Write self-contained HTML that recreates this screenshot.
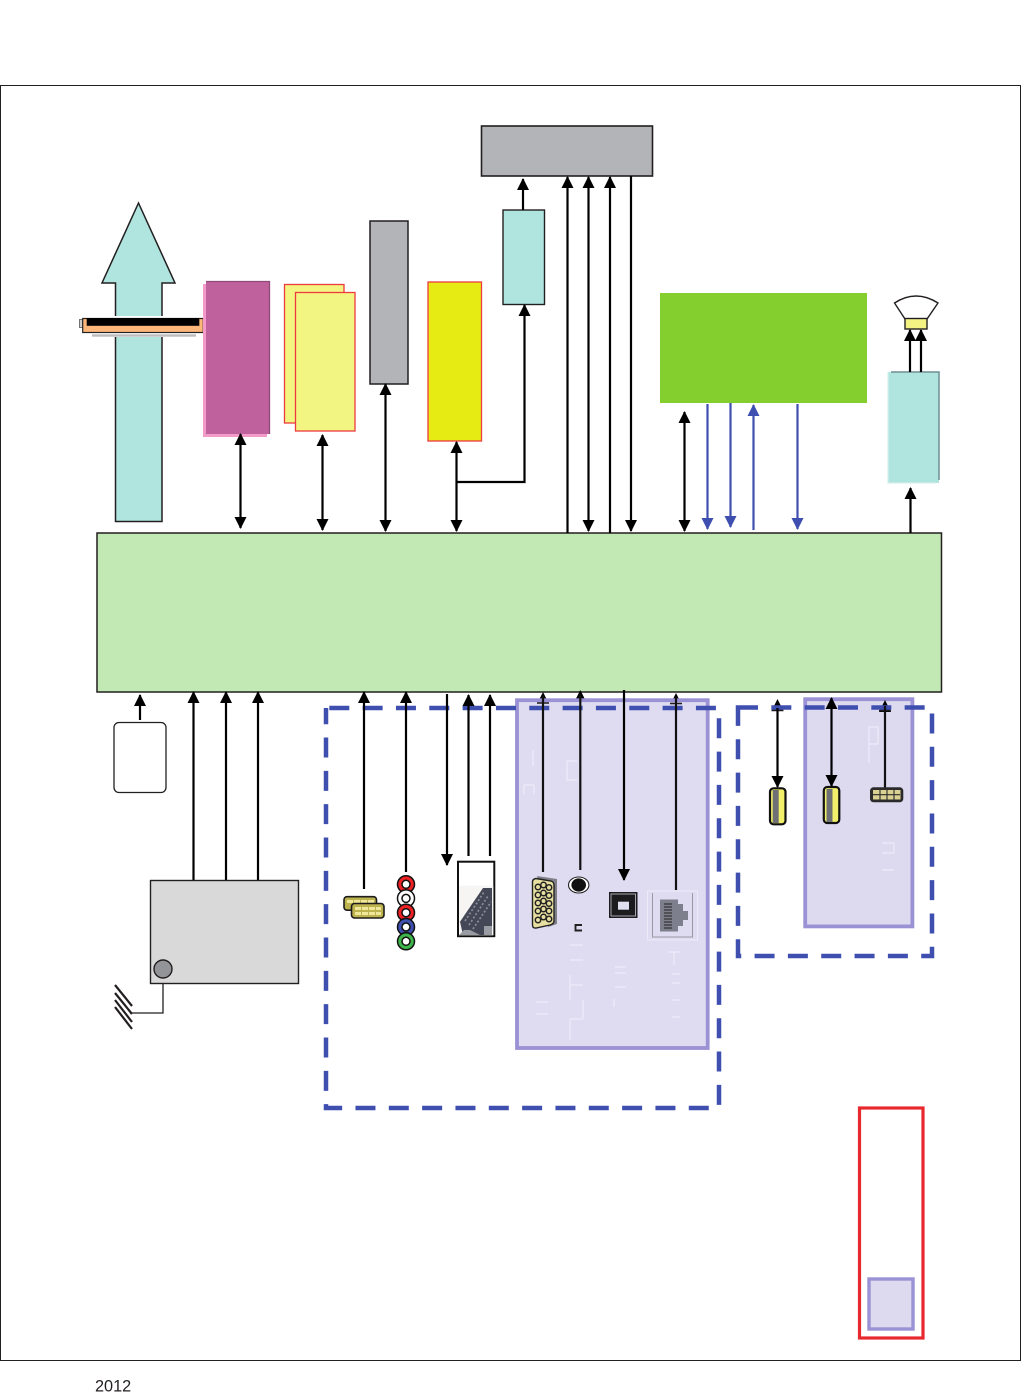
<!DOCTYPE html>
<html><head><meta charset="utf-8"><style>
html,body{margin:0;padding:0;background:#fff}
svg{display:block}
text{font-family:"Liberation Sans",sans-serif}
</style></head><body>
<svg width="1021" height="1392" viewBox="0 0 1021 1392" xmlns="http://www.w3.org/2000/svg">
<defs>
<marker id="k" markerWidth="12" markerHeight="12" refX="11" refY="6" orient="auto-start-reverse" markerUnits="userSpaceOnUse"><path d="M0,0L12,6L0,12z" fill="#000"/></marker>
<marker id="b" markerWidth="12" markerHeight="12" refX="11" refY="6" orient="auto-start-reverse" markerUnits="userSpaceOnUse"><path d="M0,0L12,6L0,12z" fill="#3f4fb0"/></marker>
</defs>
<rect x="0.5" y="85.5" width="1020" height="1275" fill="#fff" stroke="#231f20" stroke-width="1"/>

<!-- top gray -->
<rect x="481.5" y="126" width="171" height="50" fill="#b3b4b7" stroke="#231f20" stroke-width="1.600"/>

<!-- big arrow -->
<path d="M115.500,521.500V283H102L138.500,203L175,283H162V521.500Z" fill="#b0e4df" stroke="#231f20" stroke-width="1.500"/>
<rect x="78" y="316" width="130" height="21" fill="#fff"/>
<rect x="79.500" y="319.500" width="4" height="8" fill="#ccc" stroke="#555" stroke-width=".8"/>
<rect x="203" y="319.500" width="4" height="8" fill="#ccc" stroke="#555" stroke-width=".8"/>
<rect x="92" y="334.300" width="104" height="2.400" fill="#bdbdbd"/>
<rect x="82.700" y="318.500" width="120.600" height="14" fill="#fdb77a" stroke="#222" stroke-width="1.200"/>
<rect x="86.700" y="318" width="112.600" height="7.800" fill="#000"/>

<!-- purple -->
<rect x="203" y="284" width="64" height="153" fill="#f49ac9"/>
<rect x="206" y="281" width="64" height="153" fill="#bf619c"/>
<path d="M206,281.500H269.500V434" fill="none" stroke="#8e4a78" stroke-width="1.300"/>

<!-- yellow pair -->
<rect x="284.500" y="284.500" width="59.500" height="138.500" fill="#f2f581" stroke="#ee3a3f" stroke-width="1.300"/>
<rect x="295.500" y="292.500" width="59.500" height="138.500" fill="#f2f581" stroke="#ee3a3f" stroke-width="1.300"/>

<!-- gray tall -->
<rect x="370" y="221" width="38" height="163" fill="#b3b4b7" stroke="#231f20" stroke-width="1.500"/>
<!-- yellow solid -->
<rect x="428" y="282" width="53.500" height="159" fill="#e6eb14" stroke="#ee3a3f" stroke-width="1.300"/>
<!-- teal top -->
<rect x="503" y="210" width="41.500" height="94.500" fill="#b0e4df" stroke="#231f20" stroke-width="1.400"/>
<!-- green -->
<rect x="660" y="293" width="207" height="110" fill="#84ce2e"/>
<!-- teal right -->
<rect x="888" y="372" width="51" height="111" fill="#b0e4df"/>
<path d="M891,372H939V480" fill="none" stroke="#6d8e92" stroke-width="1.500"/>
<path d="M888,372V483H936" fill="none" stroke="#d5efec" stroke-width="1.200"/>
<!-- speaker -->
<path d="M905,319L894.500,303Q916,289 938,303L927,319Z" fill="#fff" stroke="#231f20" stroke-width="1.400"/>
<rect x="905" y="318.500" width="22" height="10.500" fill="#f3f384" stroke="#231f20" stroke-width="1.400"/>

<!-- main -->
<rect x="97" y="533" width="844.500" height="159" fill="#c2e8b3" stroke="#231f20" stroke-width="1.500"/>

<!-- arrowheads hidden behind lavender boxes -->
<g fill="#000">
<path d="M543,692L537,704H549Z"/>
<path d="M580.300,690L574.300,702H586.300Z"/>
<path d="M676,693L670,705H682Z"/>
</g>

<!-- lavender boxes -->
<rect x="517" y="700.200" width="190.700" height="347.800" fill="#dddaf0" fill-opacity=".94" stroke="#9a92d4" stroke-width="3.800"/>
<rect x="805.200" y="699.200" width="107.200" height="227.200" fill="#dddaf0" stroke="#9a92d4" stroke-width="3.800"/>
<g stroke="#f0eefa" stroke-width="1" fill="none">
<path d="M533,750V766M524,785H534M524,785V794M534,785V794"/>
<path d="M567,761H577M567,761V780H577"/>
<path d="M570,945H583M570,960H583M570,975V1000M570,985H583M570,1019H583M570,1019V1040M583,1000V1019"/>
<path d="M615,967H626M615,973H626M615,987H626M614,999V1007"/>
<path d="M536,1002H548M536,1014H548"/>
<path d="M668,952H680M674,952V965M672,974H680M672,983H680M672,1000H680M672,1017H680"/>
<path d="M869,727H878V744H869V727M869,744V763"/>
<path d="M882,843H894V853H882M882,870H894"/>
</g>
<g stroke="#231f20" stroke-width="1.500"><path d="M537,703H549M670,703.500H682"/></g>
<g fill="#000"><path d="M777.500,699L771.500,711H783.500Z"/><path d="M885,700L879,712H891Z"/></g>
<g stroke="#231f20" stroke-width="1.500"><path d="M771.500,710.500H783.500M879,710.500H891"/></g>

<!-- dashed -->
<g fill="none" stroke="#3f4fb0" stroke-width="4.500">
<rect x="326" y="708" width="393" height="400" stroke-dasharray="20 13.330" stroke-dashoffset="-3.300"/>
<rect x="738" y="707.500" width="194" height="248.500" stroke-dasharray="20 13.330"/>
</g>

<!-- red legend -->
<rect x="859.500" y="1108" width="63.500" height="230" fill="#fff" stroke="#e8282f" stroke-width="3.200"/>
<rect x="869" y="1279" width="44" height="50" fill="#dddaf0" stroke="#9a92d4" stroke-width="3.400"/>

<!-- black connectors -->
<g fill="none" stroke="#000" stroke-width="2.200" marker-end="url(#k)">
<path d="M240.500,434V528" marker-start="url(#k)"/>
<path d="M322.500,435V530" marker-start="url(#k)"/>
<path d="M385.500,384V531" marker-start="url(#k)"/>
<path d="M456.500,442V531" marker-start="url(#k)"/>
<path d="M457,482H524.500V305"/>
<path d="M523,210V179"/>
<path d="M567.500,533V177"/>
<path d="M588.500,531V177" marker-start="url(#k)"/>
<path d="M610,533V177"/>
<path d="M631,176V531"/>
<path d="M684.500,412V531" marker-start="url(#k)"/>
<path d="M910.500,533V488"/>
<path d="M910,372V330"/>
<path d="M921,372V330"/>
<path d="M140,720V695"/>
<path d="M193.500,880V692"/>
<path d="M226,880V692"/>
<path d="M258,880V692"/>
<path d="M364,889V692"/>
<path d="M406,872V692"/>
<path d="M447,694V865"/>
<path d="M468.500,856V695"/>
<path d="M490,856V695"/>
<path d="M624,690V880"/>
<path d="M777.500,708V787"/>
<path d="M831.500,698V786" marker-start="url(#k)"/>
</g>
<g fill="none" stroke="#111" stroke-width="2.200">
<path d="M543,872V696"/>
<path d="M580.300,870V695"/>
<path d="M676,890V697"/>
<path d="M885,788V706"/>
</g>
<!-- blue connectors -->
<g fill="none" stroke="#3f4fb0" stroke-width="2.200" marker-end="url(#b)">
<path d="M707.500,404V529"/>
<path d="M730.500,403V527"/>
<path d="M753.500,530V405"/>
<path d="M797.500,404V529"/>
</g>

<!-- SD / small -->
<rect x="114" y="722.500" width="52" height="70" rx="5" fill="#fff" stroke="#231f20" stroke-width="1.300"/>

<!-- tuner -->
<rect x="150.500" y="880.500" width="148" height="103" fill="#d9d9d9" stroke="#231f20" stroke-width="1.400"/>
<circle cx="163" cy="969" r="9" fill="#929497" stroke="#231f20" stroke-width="1.400"/>
<path d="M163,984V1013H130" fill="none" stroke="#231f20" stroke-width="1.300"/>
<g stroke="#231f20" stroke-width="2.200"><path d="M115,985L132,1006M115,993L132,1014M115,1000L132,1022M115,1007L132,1029"/></g>

<!-- HDMI pair -->
<rect x="344" y="896.700" width="32.500" height="13.500" rx="3" fill="#bcb24e" stroke="#1c1c1c" stroke-width="1.600"/>
<g fill="#efe79a"><rect x="347" y="900" width="6" height="3"/><rect x="354" y="900" width="6" height="3"/><rect x="361" y="900" width="6" height="3"/><rect x="368" y="900" width="6" height="3"/></g>
<rect x="351.500" y="903.500" width="32.500" height="14.500" rx="3" fill="#bcb24e" stroke="#1c1c1c" stroke-width="1.600"/>
<g fill="#efe79a"><rect x="355" y="907" width="6" height="3"/><rect x="362" y="907" width="6" height="3"/><rect x="369" y="907" width="6" height="3"/><rect x="376" y="907" width="5" height="3"/><rect x="355" y="912" width="6" height="3"/><rect x="362" y="912" width="6" height="3"/><rect x="369" y="912" width="6" height="3"/><rect x="376" y="912" width="5" height="3"/></g>

<!-- RCA -->
<g stroke="#111" stroke-width="1.500">
<circle cx="406" cy="884.300" r="8.500" fill="#ed2024"/><circle cx="406" cy="884.300" r="4" fill="#fff"/>
<circle cx="406" cy="898.400" r="8.500" fill="#fff"/><circle cx="406" cy="898.400" r="4" fill="#fff"/>
<circle cx="406" cy="912.700" r="8.500" fill="#ed2024"/><circle cx="406" cy="912.700" r="4" fill="#fff"/>
<circle cx="406" cy="927" r="8.500" fill="#3f4fb0"/><circle cx="406" cy="927" r="4" fill="#fff"/>
<circle cx="406" cy="941.300" r="8.500" fill="#3db54a"/><circle cx="406" cy="941.300" r="4" fill="#fff"/>
</g>

<!-- SCART -->
<rect x="458" y="861.700" width="36.300" height="74.500" fill="#fff" stroke="#111" stroke-width="2"/>
<rect x="459" y="885.700" width="34.300" height="49.500" fill="#f6f5f3"/>
<path d="M460,921.700L483,888H492V935H463Z" fill="#444755"/>
<path d="M465,921L484,892M469,925L488,896M473,929L491,902" stroke="#8a8d98" stroke-width="1.700" stroke-dasharray="2 2" fill="none"/>
<path d="M459,935L464,930H470L480,935ZM484,935V926H492V935Z" fill="#9a9ca4"/>

<!-- VGA -->
<path d="M537,876L557,879V924L548,927Z" fill="#7f8088"/>
<path d="M532.500,882Q532.500,879 536,878.500L551,881Q554,882 554,885V921Q554,924 550,925L536,928Q532.500,928.500 532.500,925Z" fill="#e8e0a0" stroke="#222" stroke-width="1.400"/>
<g fill="#e8e0a0" stroke="#222" stroke-width="1.500">
<circle cx="538" cy="887" r="2.700"/><circle cx="543.500" cy="885" r="2.700"/><circle cx="549" cy="887.500" r="2.700"/>
<circle cx="538" cy="895" r="2.700"/><circle cx="543.500" cy="893" r="2.700"/><circle cx="549" cy="895.500" r="2.700"/>
<circle cx="538" cy="903" r="2.700"/><circle cx="543.500" cy="901" r="2.700"/><circle cx="549" cy="903.500" r="2.700"/>
<circle cx="538" cy="911" r="2.700"/><circle cx="543.500" cy="909" r="2.700"/><circle cx="549" cy="911" r="2.700"/>
<circle cx="538" cy="920" r="2.700"/><circle cx="543.500" cy="917" r="2.700"/><circle cx="549" cy="919" r="2.700"/>
</g>

<!-- audio jack -->
<ellipse cx="578.700" cy="885" rx="10.200" ry="8" fill="#fff" stroke="#222" stroke-width="1.100"/>
<ellipse cx="578.700" cy="885" rx="7.300" ry="6.600" fill="#111"/>
<path d="M582,925H575.500V930.500H582" stroke="#222" stroke-width="1.900" fill="none"/>

<!-- optical -->
<rect x="609" y="892" width="28.500" height="26" fill="#1c1c1e"/>
<rect x="611" y="894" width="24.500" height="22" fill="none" stroke="#c9c9d4" stroke-width=".8"/>
<rect x="618" y="901.700" width="11" height="8" fill="#dfdff0"/>

<!-- LAN -->
<rect x="647.500" y="891" width="50" height="49" fill="none" stroke="#eceaf8" stroke-width="1"/>
<path d="M652.500,893V937H692.500V893" fill="none" stroke="#9a9aa4" stroke-width="1"/>
<path d="M660,899.500H678V904H683V911H688V920H683V926H678V931.500H660Z" fill="#7d808c"/>
<path d="M664,904H672M664,907H672M664,910H672M664,913H672M664,916H672M664,919H672M664,922H672M664,925H672M664,928H672" stroke="#222" stroke-width="1"/>

<!-- USB 1 -->
<rect x="770" y="788.300" width="15.500" height="36" rx="3.500" fill="#f2f06a" stroke="#111" stroke-width="2.200"/>
<rect x="772.700" y="790" width="6" height="33" fill="#6e7074"/>
<!-- USB 2 -->
<rect x="823.800" y="787" width="15.500" height="36" rx="3.500" fill="#f2f06a" stroke="#111" stroke-width="2.200"/>
<rect x="826.500" y="789" width="6" height="33" fill="#6e7074"/>
<!-- HDMI side -->
<rect x="870" y="787.300" width="33.300" height="15" rx="3.500" fill="#2b2b2b"/>
<rect x="873" y="790" width="27.500" height="9.500" fill="#d9d092"/>
<path d="M880,790V800M887,790V800M894,790V800M873,794.700H900" stroke="#2b2b2b" stroke-width="1.100"/>

<text x="95" y="1391.500" font-size="16.300" fill="#231f20">2012</text>
</svg>
</body></html>
